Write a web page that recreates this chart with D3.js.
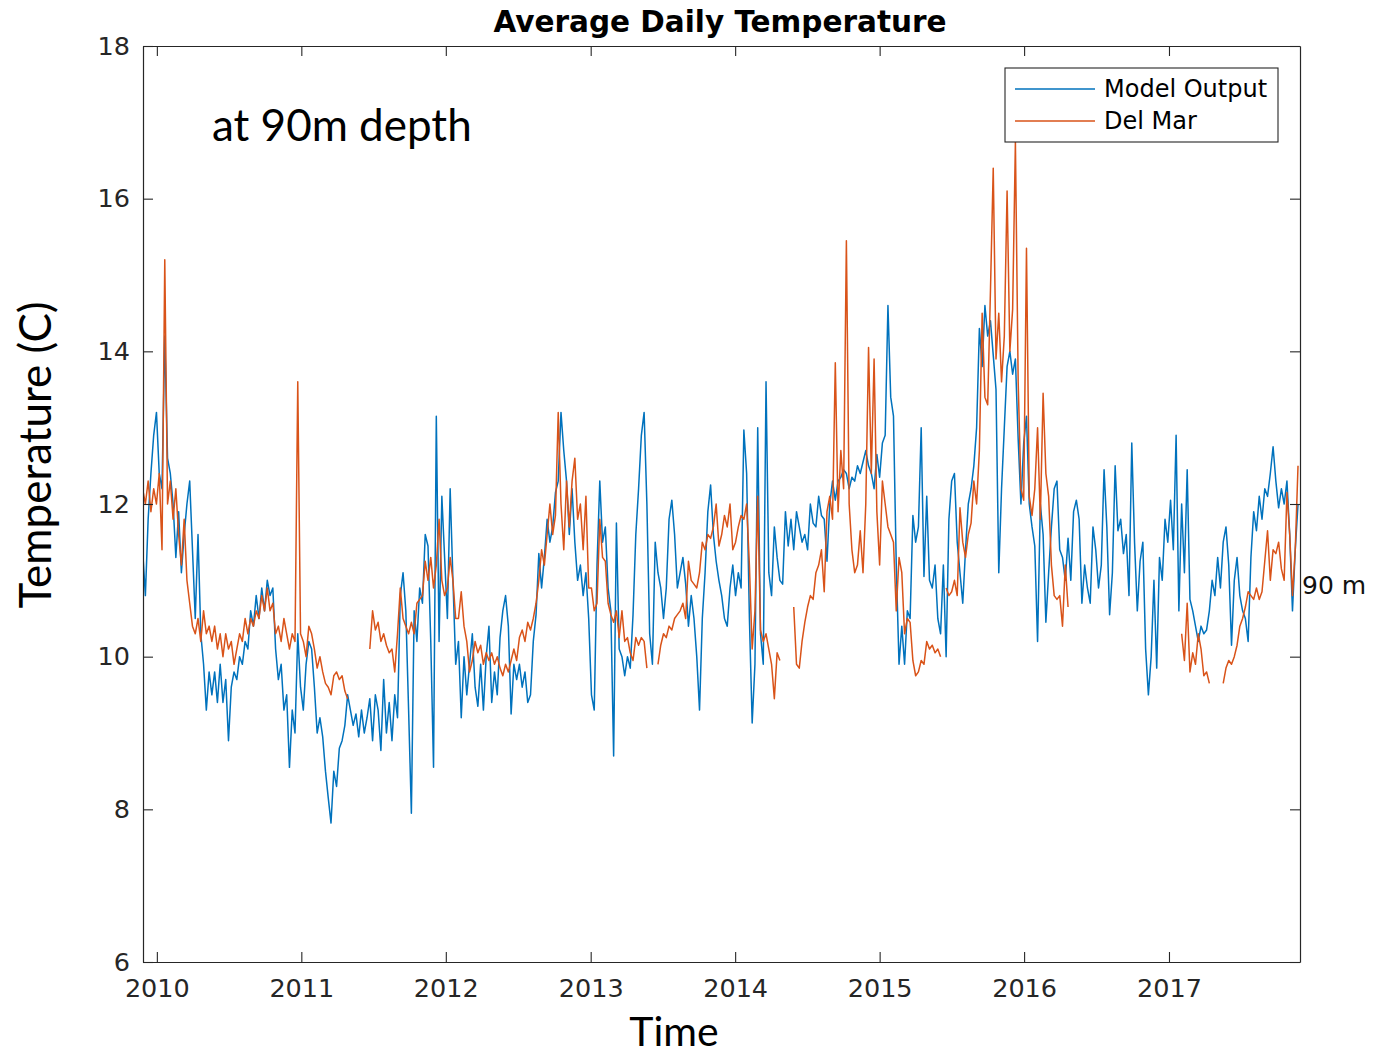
<!DOCTYPE html>
<html>
<head>
<meta charset="utf-8">
<script src="https://cdn.jsdelivr.net/npm/d3@7"></script>
<style>
  body { margin: 0; background: #ffffff; }
  svg { display: block; }
</style>
</head>
<body>
<svg id="chart" width="1373" height="1055"></svg>
<script>
// Weekly samples of average daily temperature (deg C) at 90 m depth.
const seriesStart = "2009-11-26";
const stepDays = 7;

const modelOutput = [
  11.4, 10.8, 11.8, 12.4, 12.9, 13.2, 12.4, 12.2, 14.2, 12.6,
  12.4, 12.0, 11.3, 11.9, 11.1, 11.6, 12.0, 12.3, 11.4, 10.5,
  11.6, 10.3, 9.9, 9.3, 9.8, 9.5, 9.8, 9.4, 9.9, 9.4,
  9.7, 8.9, 9.6, 9.8, 9.7, 10.0, 9.9, 10.2, 10.1, 10.6,
  10.4, 10.8, 10.5, 10.9, 10.6, 11.0, 10.8, 10.9, 10.1, 9.7,
  9.9, 9.3, 9.5, 8.55, 9.3, 9.0, 10.3, 9.6, 9.3, 9.9,
  10.2, 10.1, 9.6, 9.0, 9.2, 8.95, 8.5, 8.15, 7.82, 8.5,
  8.3, 8.8, 8.9, 9.1, 9.5, 9.3, 9.1, 9.25, 8.95, 9.3,
  9.0, 9.2, 9.45, 8.9, 9.5, 9.3, 8.77, 9.7, 9.0, 9.4,
  8.9, 9.5, 9.2, 10.8, 11.1, 10.6, 9.3, 7.95, 10.6, 10.2,
  10.9, 10.7, 11.6, 11.45, 10.2, 8.55, 13.15, 10.2, 12.1, 11.3,
  10.5, 12.2, 11.0, 9.9, 10.2, 9.2, 10.0, 9.5, 9.9, 10.3,
  9.6, 9.35, 9.9, 9.3, 10.0, 10.4, 9.4, 9.8, 9.5, 10.25,
  10.6, 10.8, 10.4, 9.25, 9.9, 9.7, 9.9, 9.6, 9.8, 9.4,
  9.5, 10.2, 10.55, 11.35, 10.9, 11.3, 11.8, 11.5, 11.7, 12.15,
  12.3, 13.2, 12.7, 12.3, 11.6, 12.2, 11.5, 11.0, 11.2, 10.8,
  11.1, 10.5, 9.5, 9.3, 11.2, 12.3, 11.5, 11.7, 10.9, 10.6,
  8.7, 11.75, 10.1, 10.0, 9.75, 10.0, 9.85, 10.55, 11.6, 12.2,
  12.9, 13.2, 12.0, 10.3, 9.9, 11.5, 11.1, 10.9, 10.5, 10.9,
  11.8, 12.05, 11.6, 10.9, 11.1, 11.3, 10.95, 10.4, 10.8, 10.5,
  10.0, 9.3, 10.5, 11.1, 11.9, 12.25, 11.6, 11.25, 11.0, 10.8,
  10.5, 10.4, 10.9, 11.2, 10.8, 11.1, 10.9, 12.97, 12.4, 10.5,
  9.13, 9.9, 13.0, 10.3, 9.9, 13.6, 11.1, 10.8, 11.7, 11.3,
  11.0, 10.95, 11.9, 11.45, 11.8, 11.4, 11.9, 11.7, 11.5, 11.6,
  11.4, 12.0, 11.75, 11.7, 12.1, 11.85, 11.8, 11.25, 12.0, 12.3,
  12.05, 12.3, 12.35, 12.45, 12.4, 12.2, 12.35, 12.3, 12.5, 12.4,
  12.55, 12.7, 12.5, 12.4, 12.2, 12.65, 12.35, 12.8, 12.9, 14.6,
  13.4, 13.15, 11.2, 9.9, 10.4, 9.9, 10.6, 10.5, 11.85, 11.5,
  11.7, 13.0, 11.05, 12.1, 11.0, 10.9, 11.2, 10.5, 10.3, 11.2,
  10.0, 11.8, 12.3, 12.4, 11.5, 11.1, 10.7, 11.4, 12.0, 12.2,
  12.5, 13.0, 14.3, 13.8, 14.6, 14.2, 14.4, 13.95, 13.5, 11.1,
  12.2, 13.0, 13.8, 14.0, 13.7, 13.9, 12.85, 12.0, 12.8, 13.15,
  12.0, 11.7, 11.45, 10.2, 12.0, 11.6, 10.45, 11.1, 11.7, 12.2,
  12.3, 11.4, 11.3, 11.0, 11.55, 11.0, 11.9, 12.05, 11.8, 10.7,
  11.2, 10.9, 10.7, 11.7, 11.4, 10.9, 11.2, 12.45, 11.7, 10.55,
  11.1, 12.5, 11.65, 11.8, 11.35, 11.6, 10.8, 12.8, 11.5, 10.6,
  11.25, 11.5, 10.1, 9.5, 10.0, 11.0, 9.85, 11.3, 11.0, 11.8,
  11.5, 12.05, 11.4, 12.9, 10.6, 12.0, 11.1, 12.45, 10.75, 10.6,
  10.4, 10.2, 10.4, 10.3, 10.35, 10.6, 11.0, 10.8, 11.3, 10.9,
  11.5, 11.7, 11.2, 10.15, 11.0, 11.3, 10.8, 10.6, 10.5, 10.2,
  11.3, 11.9, 11.65, 12.1, 11.8, 12.2, 12.1, 12.4, 12.75, 12.3,
  11.95, 12.2, 12.0, 12.3, 11.6, 10.6, 11.4, 12.0
];

// Del Mar mooring record; null marks weeks without data.
const delMar = [
  12.2, 12.0, 12.3, 11.9, 12.2, 12.0, 12.4, 11.4, 15.2, 12.0,
  12.3, 11.8, 12.2, 11.6, 11.2, 11.8, 11.0, 10.7, 10.4, 10.3,
  10.5, 10.2, 10.6, 10.3, 10.4, 10.2, 10.4, 10.1, 10.3, 10.0,
  10.3, 10.1, 10.2, 9.9, 10.1, 10.3, 10.2, 10.5, 10.3, 10.5,
  10.4, 10.6, 10.5, 10.8, 10.6, 10.9, 10.6, 10.7, 10.3, 10.4,
  10.2, 10.5, 10.3, 10.1, 10.3, 10.2, 13.6, 10.3, 10.2, 10.0,
  10.4, 10.3, 10.1, 9.85, 10.0, 9.8, 9.65, 9.6, 9.5, 9.75,
  9.8, 9.7, 9.75, 9.55, 9.45, null, null, null, null, null,
  null, null, 10.1, 10.6, 10.35, 10.45, 10.2, 10.3, 10.15, 10.05,
  10.1, 9.8, 10.3, 10.9, 10.5, 10.4, 10.3, 10.45, 10.3, 10.7,
  10.75, 10.8, 11.25, 11.0, 11.3, 10.9, 11.2, 11.8, 11.0, 10.8,
  10.9, 11.3, 11.0, 10.5, 10.5, 10.85, 10.4, 10.2, 9.8, 9.95,
  10.2, 10.05, 10.15, 9.9, 10.05, 9.95, 10.05, 9.9, 10.0, 9.85,
  9.75, 9.9, 9.8, 9.95, 10.1, 9.95, 10.25, 10.35, 10.2, 10.45,
  10.35, 10.5, 10.7, 11.0, 11.4, 11.2, 11.6, 12.0, 11.6, 11.85,
  13.2, 12.0, 11.4, 12.3, 11.7, 12.3, 12.6, 11.8, 12.0, 11.4,
  12.1, 10.9, 10.9, 10.6, 10.7, 11.8, 11.3, 11.25, 10.7, 10.55,
  10.45, 10.6, 10.25, 10.6, 10.2, 10.25, 10.05, 9.95, 10.25, 10.15,
  10.25, 10.2, 9.85, null, null, null, 9.9, 10.15, 10.3, 10.25,
  10.4, 10.35, 10.5, 10.55, 10.6, 10.7, 10.5, 11.25, 11.0, 10.95,
  10.9, 11.1, 11.5, 11.4, 11.6, 11.55, 11.7, 12.0, 11.45, 11.6,
  11.85, 11.7, 12.0, 11.4, 11.5, 11.7, 11.85, 11.8, 12.0, 11.2,
  10.1, 10.6, 12.1, 10.35, 10.2, 10.3, 10.1, 9.9, 9.45, 10.05,
  9.95, null, null, null, null, 10.65, 9.9, 9.85, 10.2, 10.45,
  10.65, 10.8, 10.75, 11.1, 11.2, 11.4, 10.85, 11.9, 12.1, 11.8,
  13.85, 11.9, 12.7, 12.2, 15.45, 12.0, 11.4, 11.1, 11.2, 11.65,
  11.1, 12.0, 14.05, 12.4, 13.9, 11.9, 11.2, 12.3, 12.0, 11.7,
  11.6, 11.5, 10.6, 11.3, 11.1, 10.3, 10.5, 10.45, 9.95, 9.75,
  9.8, 9.95, 9.9, 10.2, 10.1, 10.15, 10.05, 10.1, 10.0, null,
  10.9, 10.8, 10.85, 11.0, 10.8, 11.95, 11.5, 11.3, 11.6, 11.75,
  12.3, 12.0, 12.7, 14.5, 13.4, 13.3, 14.8, 16.4, 13.9, 14.5,
  13.6, 14.2, 16.1, 14.0, 14.55, 16.75, 13.6, 12.2, 12.05, 15.35,
  12.1, 11.85, 12.2, 13.0, 11.8, 13.45, 12.4, 12.1, 11.2, 10.8,
  10.75, 10.8, 10.4, 11.2, 10.65, null, null, null, null, null,
  null, null, null, null, null, null, null, null, null, null,
  null, null, null, null, null, null, null, null, null, null,
  null, null, null, null, null, null, null, null, null, null,
  null, null, null, null, null, 10.3, 9.95, 10.7, 9.8, 10.05,
  9.9, 10.3, 10.1, 9.75, 9.8, 9.65, null, null, null, null,
  9.65, 9.85, 9.95, 9.9, 10.0, 10.15, 10.4, 10.5, 10.65, 10.85,
  10.8, 10.75, 10.9, 10.75, 10.85, 11.25, 11.65, 11.0, 11.4, 11.35,
  11.5, 11.15, 11.0, 12.15, 11.6, 10.8, 11.4, 12.5
];

const seriesNames = ["Model Output", "Del Mar"];
const seriesColors = ["#0072BD", "#D95319"];
const yTickValues = [6, 8, 10, 12, 14, 16, 18];
const xTickYears = [2010, 2011, 2012, 2013, 2014, 2015, 2016, 2017];
const timeDomain = ["2009-11-27", "2017-11-28"];
const tempDomain = [6, 18];

const svg = d3.select("#chart");
const plot = { left: 143, right: 1300, top: 46, bottom: 962 };
const axisColor = "#262626";
const tickFont = "'DejaVu Sans', sans-serif";
const textFont = "Lato, 'Open Sans', sans-serif";

const parse = d3.utcParse("%Y-%m-%d");
const x = d3.scaleUtc().domain(timeDomain.map(parse)).range([plot.left, plot.right]);
const y = d3.scaleLinear().domain(tempDomain).range([plot.bottom, plot.top]);

const start = parse(seriesStart);
const toPoints = vals => vals.map((v, i) => ({ date: d3.utcDay.offset(start, i * stepDays), v }));
const series = [toPoints(modelOutput), toPoints(delMar)];

// plot background
svg.append("rect")
  .attr("x", plot.left).attr("y", plot.top)
  .attr("width", plot.right - plot.left).attr("height", plot.bottom - plot.top)
  .attr("fill", "#ffffff");

svg.append("clipPath").attr("id", "plot-clip")
  .append("rect")
  .attr("x", plot.left).attr("y", plot.top)
  .attr("width", plot.right - plot.left).attr("height", plot.bottom - plot.top);

const line = d3.line()
  .defined(d => d.v !== null)
  .x(d => x(d.date))
  .y(d => y(d.v));

const lines = svg.append("g").attr("clip-path", "url(#plot-clip)");
series.forEach((pts, i) => {
  lines.append("path")
    .datum(pts)
    .attr("fill", "none")
    .attr("stroke", seriesColors[i])
    .attr("stroke-width", 1.5)
    .attr("stroke-linejoin", "round")
    .attr("d", line);
});

// axes with inward ticks on all four sides
const xTicks = xTickYears.map(yr => new Date(Date.UTC(yr, 0, 1)));
const styleAxis = g => {
  g.select(".domain").attr("stroke", axisColor).attr("stroke-width", 1.2);
  g.selectAll(".tick line").attr("stroke", axisColor).attr("stroke-width", 1.1);
  g.selectAll(".tick text").attr("fill", axisColor).attr("font-family", tickFont).attr("font-size", 25.5);
};

svg.append("g")
  .attr("transform", `translate(0,${plot.bottom})`)
  .call(d3.axisBottom(x).tickValues(xTicks).tickFormat(d3.utcFormat("%Y"))
    .tickSizeInner(-10).tickSizeOuter(0).tickPadding(17))
  .call(styleAxis);

svg.append("g")
  .attr("transform", `translate(0,${plot.top})`)
  .call(d3.axisTop(x).tickValues(xTicks).tickFormat("")
    .tickSizeInner(-10).tickSizeOuter(0))
  .call(styleAxis);

svg.append("g")
  .attr("transform", `translate(${plot.left},0)`)
  .call(d3.axisLeft(y).tickValues(yTickValues).tickFormat(d3.format("d"))
    .tickSizeInner(-10).tickSizeOuter(0).tickPadding(13))
  .call(styleAxis);

svg.append("g")
  .attr("transform", `translate(${plot.right},0)`)
  .call(d3.axisRight(y).tickValues(yTickValues).tickFormat("")
    .tickSizeInner(-10).tickSizeOuter(0))
  .call(styleAxis);

// title
svg.append("text")
  .attr("x", 720).attr("y", 32)
  .attr("text-anchor", "middle")
  .attr("font-family", tickFont)
  .attr("font-weight", "bold")
  .attr("font-size", 29.5)
  .attr("fill", "#000")
  .text("Average Daily Temperature");

// axis titles
svg.append("text")
  .attr("transform", "translate(51,455) rotate(-90)")
  .attr("text-anchor", "middle")
  .attr("font-family", textFont)
  .attr("font-size", 44)
  .attr("fill", "#000")
  .text("Temperature (C)");

svg.append("text")
  .attr("x", 674).attr("y", 1046)
  .attr("text-anchor", "middle")
  .attr("font-family", textFont)
  .attr("font-size", 41)
  .attr("fill", "#000")
  .text("Time");

// annotations
svg.append("text")
  .attr("x", 212).attr("y", 141)
  .attr("font-family", textFont)
  .attr("font-size", 44)
  .attr("fill", "#000")
  .text("at 90m depth");

svg.append("text")
  .attr("x", 1302).attr("y", 594)
  .attr("font-family", tickFont)
  .attr("font-size", 25)
  .attr("fill", "#111")
  .text("90 m");

// legend
const legend = svg.append("g").attr("transform", "translate(1005,68)");
legend.append("rect")
  .attr("width", 273).attr("height", 74)
  .attr("fill", "#fff").attr("stroke", axisColor).attr("stroke-width", 1.1);
seriesNames.forEach((name, i) => {
  const cy = 21 + i * 32;
  legend.append("line")
    .attr("x1", 10).attr("x2", 90).attr("y1", cy).attr("y2", cy)
    .attr("stroke", seriesColors[i]).attr("stroke-width", 1.4);
  legend.append("text")
    .attr("x", 99).attr("y", cy + 8)
    .attr("font-family", tickFont).attr("font-size", 24)
    .attr("fill", "#000")
    .text(name);
});
</script>
</body>
</html>
